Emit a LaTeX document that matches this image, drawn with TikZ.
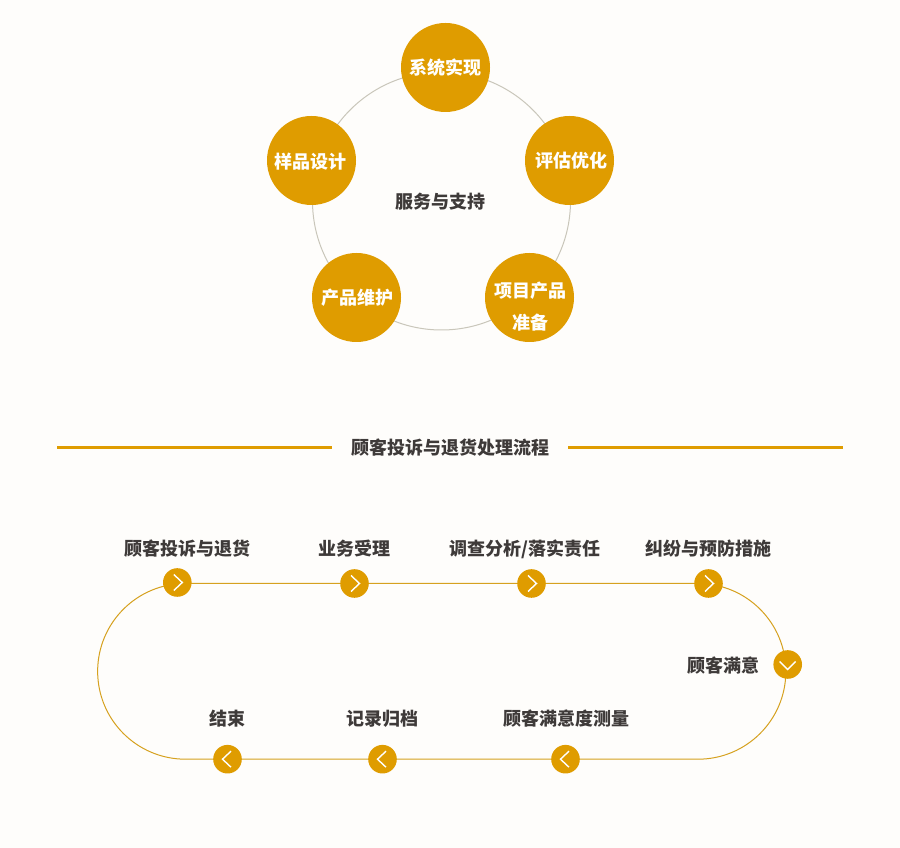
\documentclass[tikz,border=0pt]{standalone}
\usepackage{fontspec}
\setmainfont{Noto Sans CJK SC}
\usetikzlibrary{backgrounds}
\definecolor{gold}{HTML}{DF9C00}
\definecolor{flowgold}{HTML}{D6A11F}
\definecolor{ringgray}{HTML}{C9C6BA}
\definecolor{darktext}{HTML}{3E3A39}
\definecolor{paper}{HTML}{FEFDFB}
\tikzset{
  bigdot/.style={circle,fill=gold,minimum size=89pt,inner sep=0pt},
  bigtext/.style={text=white,align=center,inner sep=0pt,font=\fontsize{18}{32}\selectfont\bfseries},
  plainlabel/.style={text=darktext,inner sep=0pt,font=\fontsize{18}{22}\selectfont\bfseries},
  smalldot/.style={circle,fill=gold,minimum size=28.6pt,inner sep=0pt},
  chevline/.style={draw=white,line width=1.4pt},
  goright/.style={smalldot,path picture={\draw[chevline] ([shift={(-3.5,8)}]path picture bounding box.center) -- ++(8.5,-8) -- ++(-8.5,-8);}},
  goleft/.style={smalldot,path picture={\draw[chevline] ([shift={(3.5,8)}]path picture bounding box.center) -- ++(-8.5,-8) -- ++(8.5,-8);}},
  godown/.style={smalldot,path picture={\draw[chevline] ([shift={(-8,3)}]path picture bounding box.center) -- ++(8,-8) -- ++(8,8);}},
  flowline/.style={draw=flowgold,line width=1pt},
  titlerule/.style={draw=gold,line width=3pt}
}
\begin{document}
\begin{tikzpicture}[x=1pt,y=1pt]
\useasboundingbox (0,0) rectangle (900,848);
% 五个环节
\node[bigdot] (build) at (445.5,780.5) {};
\node[bigdot] (design) at (311.5,687.5) {};
\node[bigdot] (assess) at (569.5,687.5) {};
\node[bigdot] (upkeep) at (356.5,550.5) {};
\node[bigdot] (prepare) at (529.5,550.5) {};
\node[bigtext] (buildtext) at (445.5,780) {系统实现};
\node[bigtext] (designtext) at (310.5,686.5) {样品设计};
\node[bigtext] (assesstext) at (571,687) {评估优化};
\node[bigtext] (upkeeptext) at (357,550.5) {产品维护};
\node[bigtext] (preparetext) at (530,541) {项目产品\\准备};
\node[plainlabel] (service) at (440.8,646) {服务与支持};
% 标题
\node[plainlabel] (title) at (450,400.5) {顾客投诉与退货处理流程};
\coordinate (ruleA) at (57,400.5);
\coordinate (ruleB) at (332,400.5);
\coordinate (ruleC) at (568,400.5);
\coordinate (ruleD) at (843,400.5);
\draw[titlerule] (ruleA) -- (ruleB);
\draw[titlerule] (ruleC) -- (ruleD);
% 流程
\node[goright] (complaint) at (177.3,265.5) {};
\node[goright] (accept) at (354.5,264.5) {};
\node[goright] (inquiry) at (531.5,264.5) {};
\node[goright] (prevent) at (708.5,264.5) {};
\node[godown] (pleased) at (787.7,183.5) {};
\node[goleft] (measure) at (565.5,88.8) {};
\node[goleft] (archive) at (382.5,88.8) {};
\node[goleft] (finish) at (227.5,88.8) {};
\node[plainlabel] (complainttext) at (187,299) {顾客投诉与退货};
\node[plainlabel] (accepttext) at (354,299) {业务受理};
\node[plainlabel] (inquirytext) at (525,299) {调查分析/落实责任};
\node[plainlabel] (preventtext) at (708,299) {纠纷与预防措施};
\node[plainlabel] (pleasedtext) at (723,182) {顾客满意};
\node[plainlabel] (measuretext) at (566,129.5) {顾客满意度测量};
\node[plainlabel] (archivetext) at (382.8,129.5) {记录归档};
\node[plainlabel] (finishtext) at (227,129.5) {结束};
\coordinate (topleft) at (185.5,264.5);
\coordinate (topright) at (698,264.5);
\coordinate (lowleft) at (185.5,88.8);
\begin{scope}[on background layer]
\fill[paper] (0,0) rectangle (900,848);
\node[circle,draw=ringgray,line width=1pt,minimum size=258pt,inner sep=0pt] (ring) at (441.5,647) {};
\draw[flowline] (topleft) -- (accept.center) -- (inquiry.center) -- (prevent.center) -- (topright) arc[start angle=90,end angle=-90,radius=87.85] -- (measure.center) -- (archive.center) -- (finish.center) -- (lowleft) arc[start angle=270,end angle=90,radius=87.85];
\end{scope}
\end{tikzpicture}
\end{document}
